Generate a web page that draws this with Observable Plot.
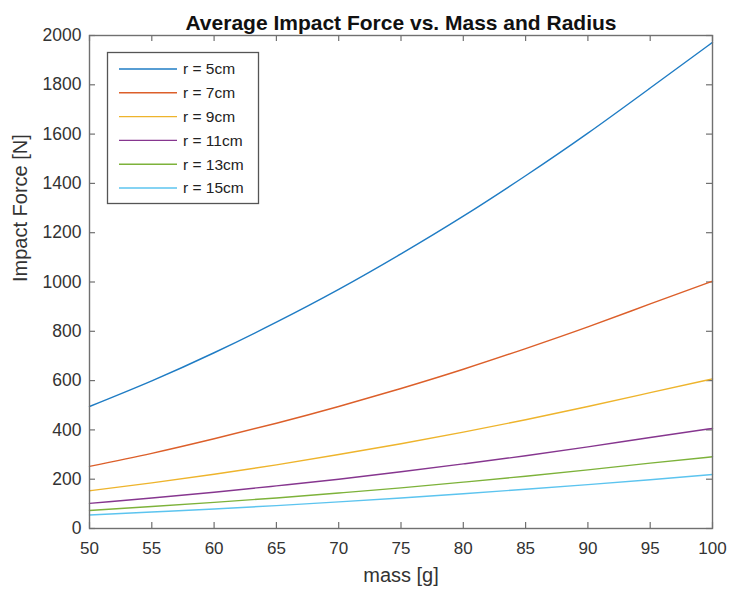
<!DOCTYPE html>
<html>
<head>
<meta charset="utf-8">
<script src="https://cdn.jsdelivr.net/npm/d3@7"></script>
<script src="https://cdn.jsdelivr.net/npm/@observablehq/plot@0.6"></script>
<style>
  body { margin: 0; background: #fff; }
  #chart { width: 730px; height: 594px; position: relative; }
  svg { font-family: "Liberation Sans", Arial, sans-serif; }
</style>
</head>
<body>
<div id="chart"></div>
<script>
const masses = [50, 55, 60, 65, 70, 75, 80, 85, 90, 95, 100];
const radii = ["r = 5cm", "r = 7cm", "r = 9cm", "r = 11cm", "r = 13cm", "r = 15cm"];
const r5  = [495, 599, 713, 837, 970, 1114, 1267, 1431, 1604, 1787, 1972];
const r7  = [252, 305, 364, 427, 495, 568, 646, 730, 818, 911, 1003];
const r9  = [153, 185, 220, 258, 300, 344, 391, 441, 495, 551, 607];
const r11 = [102, 124, 147, 173, 200, 230, 262, 295, 331, 369, 406];
const r13 = [73, 89, 106, 124, 144, 165, 188, 212, 238, 265, 291];
const r15 = [55, 67, 79, 93, 108, 124, 141, 159, 178, 198, 219];
const colors = ["#1f7cc4", "#dc5f2a", "#eeb42c", "#86368f", "#7db23a", "#5cc4ef"];
const xTicks = [50, 55, 60, 65, 70, 75, 80, 85, 90, 95, 100];
const yTicks = [0, 200, 400, 600, 800, 1000, 1200, 1400, 1600, 1800, 2000];

const series = [r5, r7, r9, r11, r13, r15];
const data = [];
series.forEach((vals, i) => vals.forEach((v, j) => data.push({mass: masses[j], force: v, r: radii[i]})));

const W = 730, H = 594, mL = 89, mR = 18, mT = 35, mB = 66;
const fw = W - mL - mR, fh = H - mT - mB, tk = 6;
const axisColor = "#707070";
const fmt = d3.format("d");

const plot = Plot.plot({
  width: W,
  height: H,
  marginLeft: mL,
  marginRight: mR,
  marginTop: mT,
  marginBottom: mB,
  style: {fontFamily: "'Liberation Sans', Arial, sans-serif", fontSize: "17px", color: "#333", background: "#fff"},
  x: {domain: [50, 100], ticks: xTicks, label: null},
  y: {domain: [0, 2000], ticks: yTicks, label: null},
  color: {domain: radii, range: colors},
  marks: [
    // inward ticks on all four sides
    Plot.ruleX(xTicks, {x: d => d, insetTop: fh - tk, stroke: axisColor, strokeWidth: 1.2}),
    Plot.ruleX(xTicks, {x: d => d, insetBottom: fh - tk, stroke: axisColor, strokeWidth: 1.2}),
    Plot.ruleY(yTicks, {y: d => d, insetRight: fw - tk, stroke: axisColor, strokeWidth: 1.2}),
    Plot.ruleY(yTicks, {y: d => d, insetLeft: fw - tk, stroke: axisColor, strokeWidth: 1.2}),
    Plot.line(data, {x: "mass", y: "force", z: "r", stroke: "r", strokeWidth: 1.4, curve: "natural"}),
    Plot.frame({stroke: axisColor, strokeWidth: 1.4}),
    Plot.axisX({anchor: "bottom", ticks: xTicks, tickSize: 0, tickPadding: 13, tickFormat: fmt, fill: "#333", fontSize: 17, label: null}),
    Plot.axisY({anchor: "left", ticks: yTicks, tickSize: 0, tickPadding: 8, tickFormat: fmt, fill: "#333", fontSize: 17.5, label: null}),
    Plot.text(["Average Impact Force vs. Mass and Radius"], {frameAnchor: "top", dy: -20, fontWeight: "bold", fontSize: 21, fill: "#111"}),
    Plot.text(["mass [g]"], {frameAnchor: "bottom", dy: 53, fontSize: 20, fill: "#333"}),
    Plot.text(["Impact Force [N]"], {frameAnchor: "left", dx: -69, rotate: -90, fontSize: 20, fill: "#333"})
  ]
});
document.getElementById("chart").appendChild(plot);

// Legend box (MATLAB-style, inside the axes at upper left)
const svg = d3.select(plot);
const lg = svg.append("g").attr("class", "legend").attr("transform", "translate(107,52)");
lg.append("rect").attr("x", 0.5).attr("y", 0.5).attr("width", 151).attr("height", 151)
  .attr("fill", "#fff").attr("stroke", "#555").attr("stroke-width", 1.3);
radii.forEach((name, i) => {
  const yy = 17 + i * 23.8;
  lg.append("line").attr("x1", 12).attr("x2", 70).attr("y1", yy).attr("y2", yy)
    .attr("stroke", colors[i]).attr("stroke-width", 1.4);
  lg.append("text").attr("x", 76).attr("y", yy).attr("dy", "0.35em")
    .attr("text-anchor", "start")
    .attr("font-size", 15.5).attr("fill", "#222")
    .attr("font-family", "'Liberation Sans', Arial, sans-serif").text(name);
});
</script>
</body>
</html>
